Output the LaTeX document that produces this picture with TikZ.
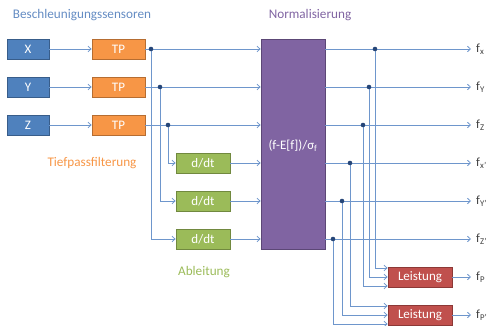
\documentclass[tikz,border=0pt]{standalone}
\usepackage{fontspec}
\setmainfont{Carlito}
\usetikzlibrary{arrows.meta}
\definecolor{bfill}{RGB}{79,129,189}
\definecolor{bdraw}{RGB}{56,93,138}
\definecolor{ofill}{RGB}{247,150,70}
\definecolor{odraw}{RGB}{182,109,49}
\definecolor{gfill}{RGB}{155,187,89}
\definecolor{gdraw}{RGB}{113,137,63}
\definecolor{pfill}{RGB}{128,100,162}
\definecolor{pdraw}{RGB}{92,71,118}
\definecolor{rfill}{RGB}{192,80,77}
\definecolor{rdraw}{RGB}{140,56,54}
\definecolor{linec}{RGB}{110,150,204}
\definecolor{dotc}{RGB}{38,70,120}
\definecolor{titleb}{RGB}{100,140,195}
\definecolor{labc}{RGB}{64,64,64}
\begin{document}
\begin{tikzpicture}[x=1pt,y=-1pt,
  box/.style={draw, line width=0.8pt, minimum height=20pt, inner sep=0pt, text=white, font=\fontsize{13}{15}\selectfont},
  sbox/.style={box, fill=bfill, draw=bdraw, minimum width=42pt},
  tpbox/.style={box, fill=ofill, draw=odraw, minimum width=53pt},
  ddbox/.style={box, fill=gfill, draw=gdraw, minimum width=54pt},
  lbox/.style={box, fill=rfill, draw=rdraw, minimum width=64pt},
  nbox/.style={box, fill=pfill, draw=pdraw, minimum width=64pt, minimum height=210pt},
  conn/.style={draw=linec, line width=0.8pt},
  arr/.style={conn, -{Straight Barb[length=3pt,width=5.5pt]}},
  dot/.style={fill=dotc},
  outlab/.style={anchor=west, inner sep=0pt, text=labc, font=\fontsize{12.5}{14}\selectfont},
  title/.style={font=\fontsize{13.2}{15}\selectfont}]
\path[use as bounding box] (0,0) rectangle (488,326);
\clip (0,0) rectangle (488,326);
% titles
\node[title, text=titleb] (tb) at (82,15) {Beschleunigungssensoren};
\node[title, text=pfill] (tn) at (310,15) {Normalisierung};
\node[title, text=ofill] (tt) at (92,163) {Tiefpassfilterung};
\node[title, text=gfill] (ta) at (204,272) {Ableitung};
% boxes
\node[sbox] (X) at (28,49) {X};
\node[sbox] (Y) at (28,87) {Y};
\node[sbox] (Z) at (28,125) {Z};
\node[tpbox] (TP1) at (118.5,49) {TP};
\node[tpbox] (TP2) at (118.5,87) {TP};
\node[tpbox] (TP3) at (118.5,125) {TP};
\node[ddbox] (D1) at (203,163) {d/dt};
\node[ddbox] (D2) at (203,201) {d/dt};
\node[ddbox] (D3) at (203,239) {d/dt};
\node[nbox] (N) at (293,144) {};
\node[box, draw=none] (Nt) at (293,146) {(f-E[f])/σ\textsubscript{f}};
\node[lbox] (L1) at (420,277) {Leistung};
\node[lbox] (L2) at (420,315) {Leistung};
% junction coordinates
\coordinate (d1) at (151,49);
\coordinate (d2) at (160,87);
\coordinate (d3) at (168,125);
\coordinate (o1) at (375,49);
\coordinate (o2) at (369,87);
\coordinate (o3) at (363,125);
\coordinate (o4) at (350,163);
\coordinate (o5) at (342,201);
\coordinate (o6) at (333,239);
\coordinate (e1) at (471,49);
\coordinate (e2) at (471,87);
\coordinate (e3) at (471,125);
\coordinate (e4) at (471,163);
\coordinate (e5) at (471,201);
\coordinate (e6) at (471,239);
\coordinate (e7) at (471,277);
\coordinate (e8) at (471,315);
% sensor -> TP
\draw[arr] (X) -- (TP1);
\draw[arr] (Y) -- (TP2);
\draw[arr] (Z) -- (TP3);
% TP -> normalisation and d/dt
\draw[conn] (TP1) -- (d1);
\draw[conn] (TP2) -- (d2);
\draw[conn] (TP3) -- (d3);
\draw[arr] (d1) -- (N.west |- d1);
\draw[arr] (d2) -- (N.west |- d2);
\draw[arr] (d3) -- (N.west |- d3);
\draw[arr] (d1) |- (D3);
\draw[arr] (d2) |- (D2);
\draw[arr] (d3) |- (D1);
\draw[arr] (D1) -- (N.west |- D1);
\draw[arr] (D2) -- (N.west |- D2);
\draw[arr] (D3) -- (N.west |- D3);
% outputs
\draw[arr] (N.east |- e1) -- (e1);
\draw[arr] (N.east |- e2) -- (e2);
\draw[arr] (N.east |- e3) -- (e3);
\draw[arr] (N.east |- e4) -- (e4);
\draw[arr] (N.east |- e5) -- (e5);
\draw[arr] (N.east |- e6) -- (e6);
% power
\draw[arr] (o1) |- ([yshift=9pt]L1.west);
\draw[arr] (o2) |- (L1.west);
\draw[arr] (o3) |- ([yshift=-9pt]L1.west);
\draw[arr] (o4) |- ([yshift=9pt]L2.west);
\draw[arr] (o5) |- (L2.west);
\draw[arr] (o6) |- ([yshift=-9pt]L2.west);
\draw[arr] (L1) -- (e7);
\draw[arr] (L2) -- (e8);
% dots
\foreach \p in {d1,d2,d3,o1,o2,o3,o4,o5,o6} \fill[dot] (\p) circle (2.3pt);
% output labels
\node[outlab] (f1) at ([xshift=5pt]e1) {f\textsubscript{x}};
\node[outlab] (f2) at ([xshift=5pt]e2) {f\textsubscript{Y}};
\node[outlab] (f3) at ([xshift=5pt]e3) {f\textsubscript{Z}};
\node[outlab] (f4) at ([xshift=5pt]e4) {f\textsubscript{x'}};
\node[outlab] (f5) at ([xshift=5pt]e5) {f\textsubscript{Y'}};
\node[outlab] (f6) at ([xshift=5pt]e6) {f\textsubscript{Z'}};
\node[outlab] (f7) at ([xshift=5pt]e7) {f\textsubscript{P}};
\node[outlab] (f8) at ([xshift=5pt]e8) {f\textsubscript{P'}};
\end{tikzpicture}
\end{document}
